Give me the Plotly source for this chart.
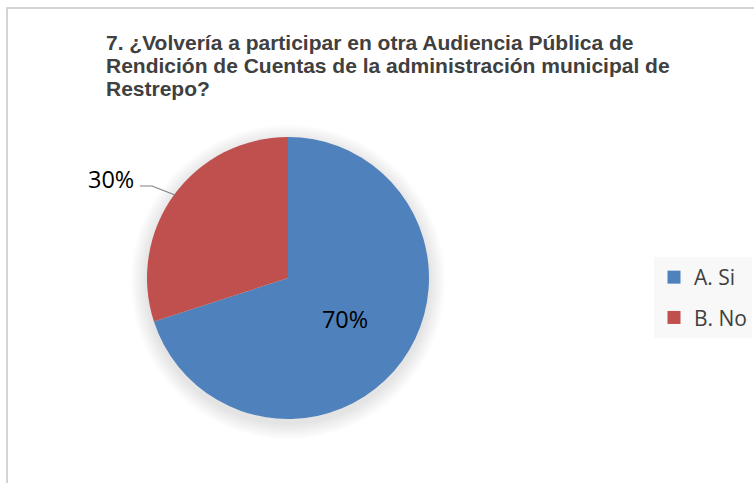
import plotly.graph_objects as go

labels = ["A. Si", "B. No"]
values = [70, 30]
colors = ["#4F81BD", "#C0504D"]
title_lines = [
    "7. ¿Volvería a participar en otra Audiencia Pública de",
    "Rendición de Cuentas de la administración municipal de",
    "Restrepo?",
]

W, H = 754, 483

def px(x):
    return x / W

def py(y):
    return 1 - y / H

total = sum(values)
pct = [f"{v / total * 100:.0f}%" for v in values]

# pie placement (pixels)
CX, CY, R = 288, 278, 141

fig = go.Figure()
fig.add_trace(go.Pie(
    labels=labels,
    values=values,
    marker=dict(colors=colors, line=dict(width=0)),
    sort=False,
    direction="clockwise",
    rotation=0,
    text=pct,
    textinfo="text",
    textposition=["inside", "none"],
    insidetextfont=dict(family="Open Sans", size=23.5, color="#000000"),
    domain=dict(x=[px(CX - R), px(CX + R)], y=[py(CY + R), py(CY - R)]),
    hoverinfo="label+percent",
    showlegend=False,
))

# legend entries
for lab, col in zip(labels, colors):
    fig.add_trace(go.Scatter(
        x=[None], y=[None], mode="markers", name=lab,
        marker=dict(symbol="square", size=13, color=col),
        legendgroup=lab,
    ))

annotations = []
for i, line in enumerate(title_lines):
    annotations.append(dict(
        text=f"<b>{line}</b>", x=px(104), y=py(43 + 22.5 * i),
        xref="paper", yref="paper", showarrow=False,
        xanchor="left", yanchor="middle",
        font=dict(family="Liberation Sans", size=21, color="#404040"),
    ))
annotations.append(dict(
    text=pct[1], x=px(111), y=py(179), xref="paper", yref="paper",
    showarrow=False, xanchor="center", yanchor="middle",
    font=dict(family="Open Sans", size=23.5, color="#000000"),
))

shapes = [
    dict(type="rect", xref="paper", yref="paper",
         x0=px(7), x1=1.02, y0=-0.02, y1=py(8),
         line=dict(color="#C8C8C8", width=1.5), fillcolor="rgba(0,0,0,0)", layer="below"),
]
# soft shadow under the pie
for k in range(1, 10):
    r = R + 1.8 * k
    cy = CY + 4
    shapes.append(dict(
        type="circle", xref="paper", yref="paper", layer="below",
        x0=px(CX - r), x1=px(CX + r), y0=py(cy + r), y1=py(cy - r),
        fillcolor="rgba(0,0,0,0.011)", line=dict(width=0),
    ))
shapes.append(dict(
    type="path", xref="paper", yref="paper",
    path=f"M {px(140)} {py(186)} L {px(152)} {py(186)} L {px(175)} {py(195)}",
    line=dict(color="#808080", width=1.2),
))

fig.update_layout(
    width=W, height=H,
    margin=dict(l=0, r=0, t=0, b=0),
    paper_bgcolor="white",
    plot_bgcolor="rgba(0,0,0,0)",
    xaxis=dict(visible=False),
    yaxis=dict(visible=False),
    legend=dict(
        x=px(654), xanchor="left",
        y=py(257), yanchor="top",
        bgcolor="#F8F8F8",
        font=dict(family="Open Sans", size=21, color="#404040"),
        tracegroupgap=10,
        itemwidth=30,
    ),
    annotations=annotations,
    shapes=shapes,
)

fig.write_html("out.html", config={"displayModeBar": False},
               post_script="document.body.style.margin='0';")
